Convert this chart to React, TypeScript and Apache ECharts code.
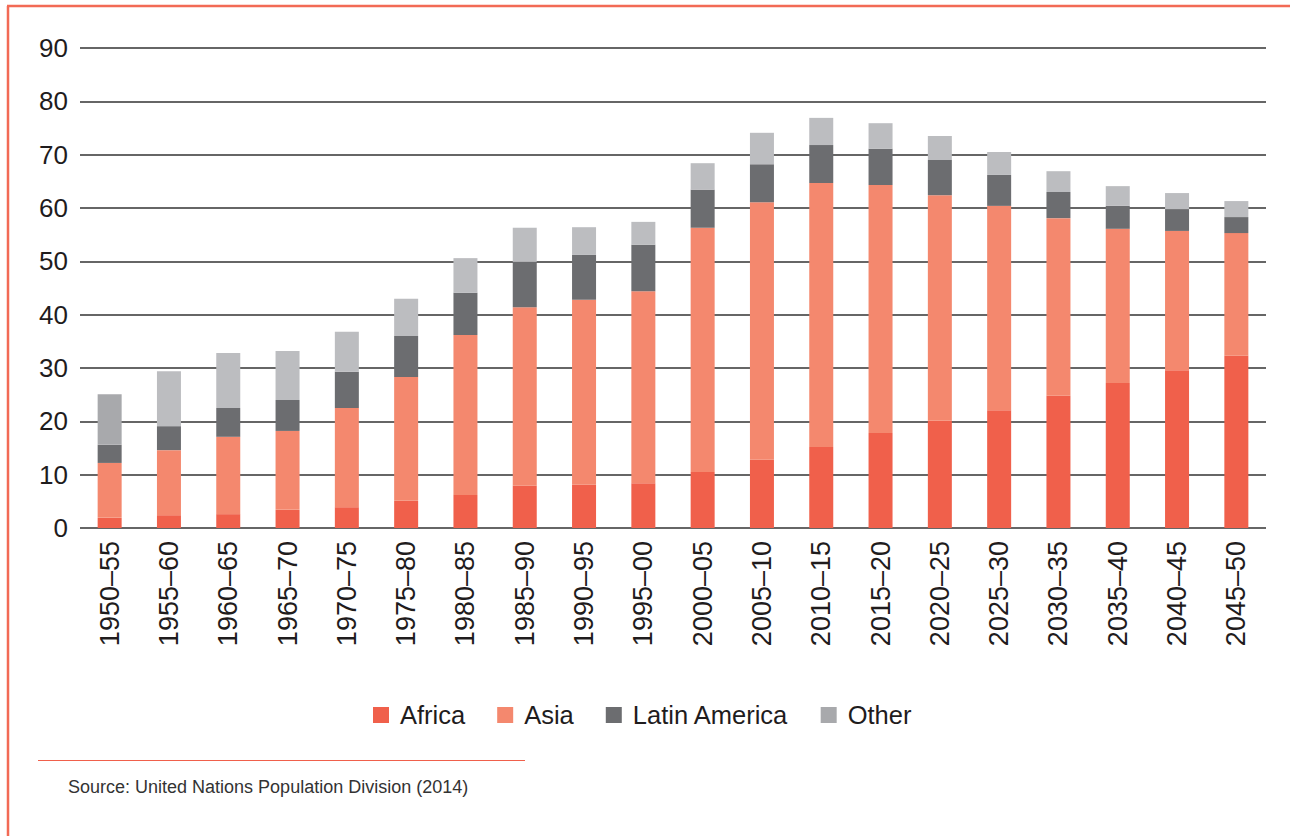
import React, { useEffect, useRef } from "react";
import * as echarts from "echarts";

const categories = [
  "1950–55", "1955–60", "1960–65", "1965–70", "1970–75", "1975–80", "1980–85",
  "1985–90", "1990–95", "1995–00", "2000–05", "2005–10", "2010–15", "2015–20",
  "2020–25", "2025–30", "2030–35", "2035–40", "2040–45", "2045–50",
];
const africa = [1.9, 2.4, 2.6, 3.4, 3.9, 5.1, 6.2, 7.9, 8.1, 8.4, 10.5, 12.8, 15.2, 17.8, 20.1, 22.1, 24.8, 27.2, 29.6, 32.3];
const asia = [10.3, 12.2, 14.5, 14.8, 18.6, 23.2, 30.0, 33.5, 34.7, 36.0, 45.8, 48.3, 49.5, 46.5, 42.3, 38.3, 33.3, 28.9, 26.1, 23.0];
const latinAmerica = [3.4, 4.5, 5.4, 5.8, 6.8, 7.7, 7.9, 8.5, 8.4, 8.7, 7.1, 7.1, 7.1, 6.8, 6.6, 5.8, 4.9, 4.3, 4.1, 3.0];
const other = [9.5, 10.3, 10.3, 9.2, 7.5, 7.0, 6.5, 6.4, 5.2, 4.3, 5.0, 5.9, 5.1, 4.8, 4.5, 4.3, 3.9, 3.7, 3.0, 3.0];
const yTicks = { min: 0, max: 90, interval: 10 };
const sourceText = "Source: United Nations Population Division (2014)";

const FONT = "'Liberation Sans', Arial, Helvetica, sans-serif";
const TEXT = "#1f1c1d";
const FRAME = "#F26A55";

export default function App() {
  const ref = useRef<HTMLDivElement>(null);
  useEffect(() => {
    if (!ref.current) return;
    const chart = echarts.init(ref.current, undefined, { renderer: "svg" });
    const mk = (name: string, data: number[], color: string) => ({
      name,
      type: "bar",
      stack: "total",
      barWidth: 24,
      data,
      itemStyle: { color },
    });
    const otherData = other.map((v, i) =>
      i === 0 ? { value: v, itemStyle: { color: "#A8A9AC" } } : { value: v, itemStyle: { color: "#BCBDC0" } }
    );
    chart.setOption({
      animation: false,
      textStyle: { fontFamily: FONT },
      grid: { left: 80, right: 24, top: 48, bottom: 308, containLabel: false },
      legend: {
        left: 368,
        top: 697,
        itemWidth: 16,
        itemHeight: 16,
        itemGap: 32,
        icon: "rect",
        textStyle: { fontSize: 25.5, color: TEXT, fontFamily: FONT, padding: [0, 0, 0, 6] },
        data: ["Africa", "Asia", "Latin America", "Other"],
      },
      xAxis: {
        type: "category",
        data: categories,
        axisLine: { show: false },
        axisTick: { show: false },
        axisLabel: { rotate: 90, fontSize: 27, color: TEXT, margin: 13, fontFamily: FONT },
      },
      yAxis: {
        type: "value",
        min: yTicks.min,
        max: yTicks.max,
        interval: yTicks.interval,
        axisLine: { show: false },
        axisTick: { show: false },
        axisLabel: { fontSize: 26, color: TEXT, margin: 12, fontFamily: FONT },
        splitLine: { lineStyle: { color: "#333333", width: 1.5 } },
      },
      series: [
        mk("Africa", africa, "#F0604B"),
        mk("Asia", asia, "#F4886E"),
        mk("Latin America", latinAmerica, "#6C6D70"),
        { ...mk("Other", [], "#A8A9AC"), data: otherData },
      ],
      graphic: [
        { type: "line", shape: { x1: 8, y1: 6, x2: 8, y2: 836 }, style: { stroke: FRAME, lineWidth: 2.5 } },
        { type: "line", shape: { x1: 7, y1: 6, x2: 1290, y2: 6 }, style: { stroke: FRAME, lineWidth: 2.5 } },
        { type: "line", shape: { x1: 38, y1: 760.5, x2: 525, y2: 760.5 }, style: { stroke: "#F0604B", lineWidth: 1.2 } },
        {
          type: "text",
          x: 68,
          y: 787,
          style: { text: sourceText, fontSize: 18, fill: "#333333", fontFamily: FONT, verticalAlign: "middle" },
        },
      ],
    });
    return () => chart.dispose();
  }, []);
  return <div ref={ref} style={{ position: "absolute", left: 0, top: 0, width: 1290, height: 836, background: "#fff" }} />;
}
